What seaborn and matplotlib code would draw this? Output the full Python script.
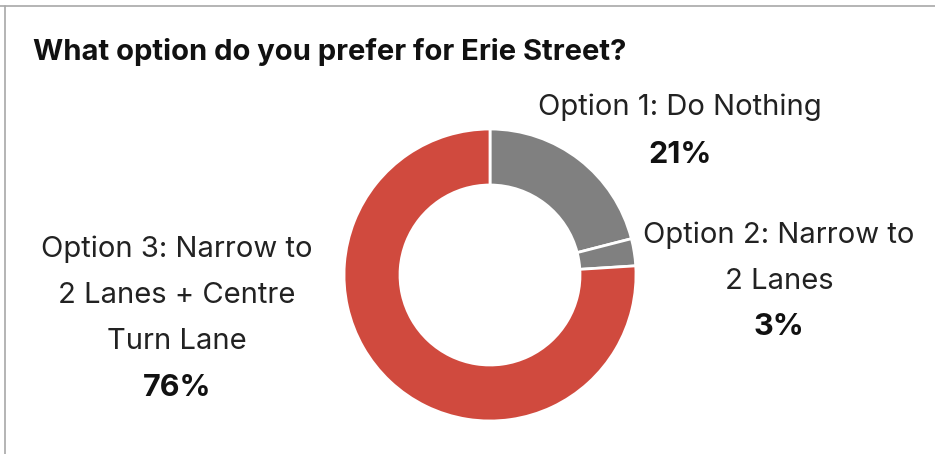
import matplotlib
matplotlib.use("Agg")
import matplotlib.pyplot as plt
from matplotlib.lines import Line2D
import seaborn as sns

labels = ["Option 1: Do Nothing", "Option 2: Narrow to\n2 Lanes", "Option 3: Narrow to\n2 Lanes + Centre\nTurn Lane"]
shares = [21, 3, 76]
colors = ["#808080", "#808080", "#D04A3E"]

sns.set_theme(style="white")
plt.rcParams["font.family"] = ["Inter", "DejaVu Sans"]

W, H = 935, 454
fig = plt.figure(figsize=(W / 100, H / 100), dpi=100)
ax = fig.add_axes([0, 0, 1, 1])

# donut
ax.pie(shares, colors=colors, startangle=90, counterclock=False,
       center=(490, H - 275), radius=146, frame=True,
       wedgeprops=dict(width=146 - 90, edgecolor="white", linewidth=2))
ax.set_xlim(0, W)
ax.set_ylim(0, H)
ax.set_aspect("equal")
ax.axis("off")

# frame lines (top and left)
fig.add_artist(Line2D([0, 1], [1 - 6 / H, 1 - 6 / H], color="#a8a8a8", lw=1.2))
fig.add_artist(Line2D([5 / W, 5 / W], [0, 1 - 6 / H], color="#a8a8a8", lw=1.2))

ax.text(33, H - 52, "What option do you prefer for Erie Street?", fontsize=21,
        fontweight="bold", color="#111111", va="center", ha="left")

txt = dict(fontsize=21, color="#222222", ha="center", va="center", linespacing=1.9)
pct = dict(fontsize=22, fontweight="bold", color="#111111", ha="center", va="center")

ax.text(680, H - 107, labels[0], **txt)
ax.text(680, H - 155, f"{shares[0]}%", **pct)

ax.text(779, H - 258, labels[1], **txt)
ax.text(779, H - 327, f"{shares[1]}%", **pct)

ax.text(177, H - 295, labels[2], **txt)
ax.text(177, H - 388, f"{shares[2]}%", **pct)

fig.savefig("out.png", dpi=100, facecolor="white")
